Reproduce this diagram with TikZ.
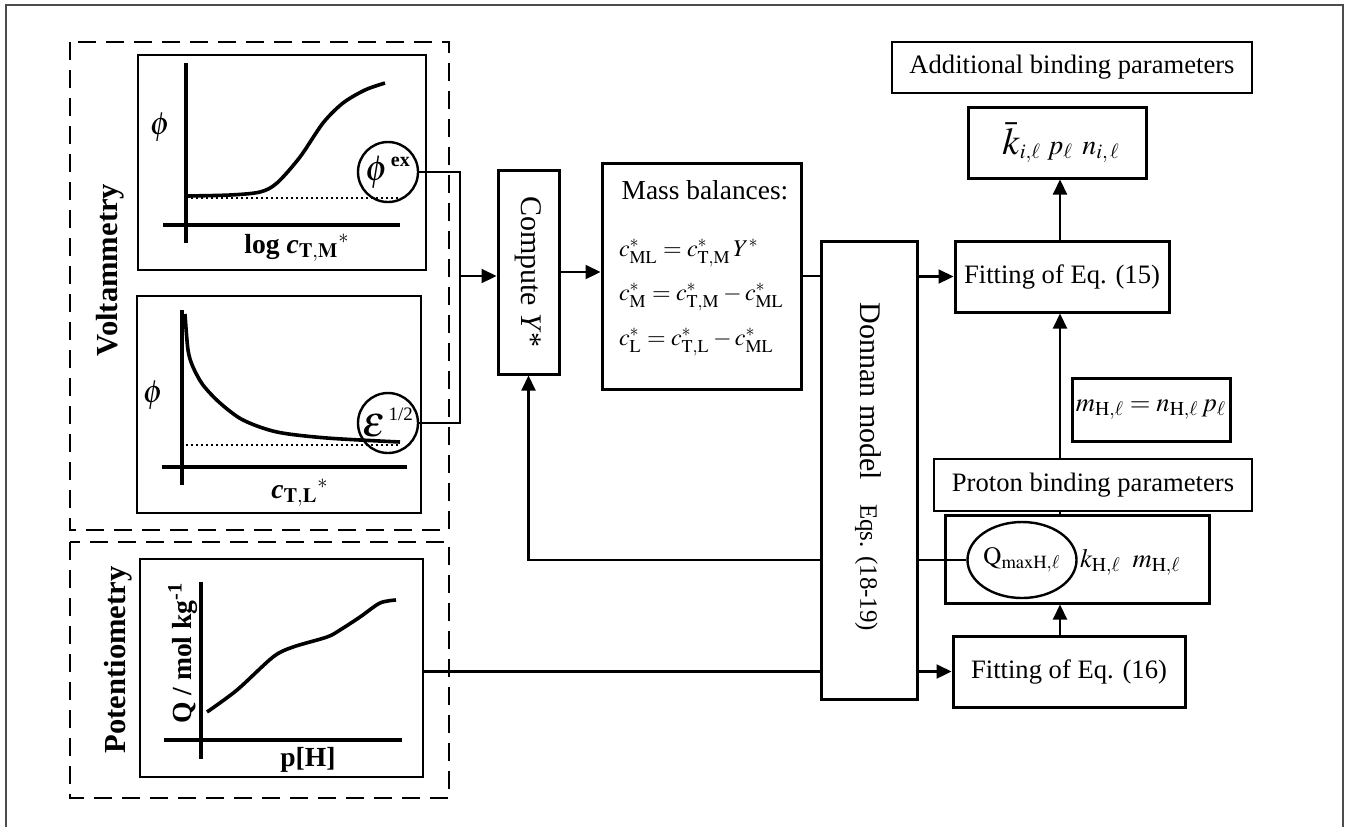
\documentclass[tikz,border=0pt]{standalone}
\usepackage{mathptmx}
\usepackage[no-math]{fontspec}
\setmainfont{Liberation Serif}
\usetikzlibrary{arrows.meta,shapes.geometric}

\tikzset{
  box/.style={draw, line width=1.5pt, inner sep=0pt},
  thinbox/.style={draw, line width=0.9pt, inner sep=0pt},
  ring/.style={draw, circle, line width=1.2pt, inner sep=0pt, minimum size=30pt},
  wire/.style={line width=1.1pt},
  arr/.style={wire, -{Triangle[length=7.5pt,width=7pt]}},
  group/.style={line width=1.3pt, dash pattern=on 9pt off 5pt},
  axis/.style={line width=2.4pt},
  curve/.style={line width=1.8pt, line join=round},
  dotline/.style={line width=1.4pt, dash pattern=on 1.2pt off 1.3pt},
  plotlabel/.style={font=\bfseries\fontsize{13.8}{16}\selectfont},
}

\begin{document}
\begin{tikzpicture}[x=0.5pt, y=-0.5pt, font=\fontsize{13.3}{16}\selectfont]
\useasboundingbox (0,0) rectangle (1345,827);

% outer frame, open at the bottom
\draw[line width=1pt, black!70] (6,827) -- (6,5) -- (1343,5) -- (1343,827);

% Draw the two measurement groups
\draw[group] (70,42) rectangle (449,530);
\draw[group] (70,542) rectangle (449,798);
\node[rotate=90, font=\bfseries\fontsize{15.3}{18}\selectfont] at (110,270) {Voltammetry};
\node[rotate=90, font=\bfseries\fontsize{15.3}{18}\selectfont] at (118,660) {Potentiometry};

% Voltammetry: phi against log c
\node[box, line width=1.3pt, minimum width=144pt, minimum height=107.5pt] (plotM) at (282,162.5) {};
\draw[axis] (186,63) -- (186,243);
\draw[axis] (163,225) -- (400,225);
\draw[dotline] (186,198) -- (400,198);
\draw[curve] plot[smooth] coordinates {(186,196) (230,195) (260,192) (277,183) (300,157) (323,123) (343,103) (365,90) (385,83)};
\node[font=\fontsize{16}{18}\selectfont] at (160,127) {$\phi$};
\node[plotlabel] at (297,248) {log \textit{c}$_{\mathbf{T{,}M}}{}^{*}$};
\node[ring] (phiex) at (388,172) {\fontsize{18}{18}\selectfont$\phi^{\,\mbox{\fontsize{10}{10}\selectfont\bfseries ex}}$};

% Voltammetry: phi against c_T,L
\node[box, line width=1.3pt, minimum width=142pt, minimum height=108.5pt] (plotL) at (279,404.5) {};
\draw[axis] (182,310) -- (182,485);
\draw[axis] (162,467) -- (407,467);
\draw[dotline] (186,445) -- (400,445);
\draw[curve] plot[smooth] coordinates {(185,314) (188,350) (193,367) (203,385) (220,403) (243,420) (277,432) (327,438) (400,442)};
\node[font=\fontsize{16}{18}\selectfont] at (153,395) {$\phi$};
\node[plotlabel] at (300,493) {\textit{c}$_{\mathbf{T{,}L}}{}^{*}$};
\node[ring] (eps) at (388,423) {\fontsize{22}{22}\selectfont$\varepsilon^{\,\mbox{\fontsize{9.5}{10}\selectfont 1/2}}$};

% Potentiometry: charge against p[H]
\node[box, line width=1.3pt, minimum width=141.5pt, minimum height=109pt] (plotH) at (281.5,668) {};
\draw[axis] (201,582) -- (201,759);
\draw[axis] (164,740) -- (402,740);
\draw[curve] plot[smooth] coordinates {(207,712) (237,690) (273,657) (293,647) (327,637) (340,630) (360,617) (380,603) (396,600)};
\node[plotlabel, rotate=90] at (183,653) {Q / mol kg\textsuperscript{-1}};
\node[plotlabel] at (308,760) {p[H]};

% processing chain
\node[box, minimum width=30.5pt, minimum height=102pt] (compute) at (528.5,272) {};
\node[rotate=-90, font=\fontsize{15}{18}\selectfont] at (compute) {Compute \textit{Y}*};
\node[box, minimum width=99.5pt, minimum height=113pt] (mass) at (701.5,276) {};
\node[font=\fontsize{13.7}{16}\selectfont] at (705,190) {Mass balances:};
\node[anchor=west, font=\fontsize{12}{14}\selectfont] at (612,253) {$c^{*}_{\mathrm{ML}} = c^{*}_{\mathrm{T,M}}\,Y^{*}$};
\node[anchor=west, font=\fontsize{12}{14}\selectfont] at (612,297) {$c^{*}_{\mathrm{M}} = c^{*}_{\mathrm{T,M}} - c^{*}_{\mathrm{ML}}$};
\node[anchor=west, font=\fontsize{12}{14}\selectfont] at (612,342) {$c^{*}_{\mathrm{L}} = c^{*}_{\mathrm{T,L}} - c^{*}_{\mathrm{ML}}$};

\node[box, minimum width=48pt, minimum height=229pt] (donnan) at (869,470) {};
\node[rotate=-90] at (868,467) {{\fontsize{15}{18}\selectfont Donnan model}\hspace{12pt}{\fontsize{12.5}{15}\selectfont Eqs. (18-19)}};

% fitting and parameter boxes
\node[box, minimum width=107pt, minimum height=35.5pt] (fit15) at (1062,276.5) {Fitting of Eq. (15)};
\node[box, minimum width=89pt, minimum height=35.5pt, font=\fontsize{14}{16}\selectfont] (kbox) at (1057,142.5) {\hspace{4pt}{\fontsize{19}{19}\selectfont$\bar{k}$}$_{i,\ell}\; p_{\ell}\;\, n_{i,\,\ell}$};
\node[thinbox, minimum width=180pt, minimum height=25.5pt] (addl) at (1072,67.5) {Additional binding parameters};
\node[box, minimum width=79pt, minimum height=31.5pt] (meq) at (1151,409.5) {$m_{\mathrm{H},\ell} = n_{\mathrm{H},\ell}\,p_{\ell}$};
\node[thinbox, minimum width=159pt, minimum height=26pt] (proton) at (1093,485) {Proton binding parameters};
\node[box, minimum width=132pt, minimum height=44pt] (qbox) at (1077,559) {};
\node[draw, ellipse, line width=1.2pt, minimum width=47pt, minimum height=38pt, inner sep=0pt, font=\fontsize{12.5}{14}\selectfont] (qell) at (1022,560) {$\mathrm{Q}_{\mathrm{maxH},\ell}$};
\node[anchor=west] at (1073,562) {$k_{\mathrm{H},\ell}\;\; m_{\mathrm{H},\ell}$};
\node[box, minimum width=116pt, minimum height=35.5pt] (fit16) at (1069,671.5) {Fitting of Eq. (16)};

% Draw the connectors
\coordinate (join) at (460,276);
\draw[wire] (phiex.east) -| (join) |- (eps.east);
\draw[arr] (join) -- (join -| compute.west);
\draw[arr] (compute.east) -- (compute.east -| mass.west);
\draw[wire] (mass.east) -- (mass.east -| donnan.west);
\draw[arr] (donnan.east |- fit15.west) -- (fit15.west);
\draw[wire] (plotH.east |- fit16.west) -- (donnan.west |- fit16.west);
\draw[arr] (donnan.east |- fit16.west) -- (fit16.west);
\draw[wire] (qell.west) -- (qell.west -| donnan.east);
\draw[arr] (donnan.west |- qell.west) -| (compute.south);

% vertical chain on the right
\coordinate (spine) at (1060,0);
\draw[arr] (spine |- fit16.north) -- (spine |- qbox.south);
\draw[wire] (spine |- qbox.north) -- (spine |- proton.south);
\draw[arr] (spine |- proton.north) -- (spine |- fit15.south);
\draw[arr] (spine |- fit15.north) -- (spine |- kbox.south);
\end{tikzpicture}
\end{document}
